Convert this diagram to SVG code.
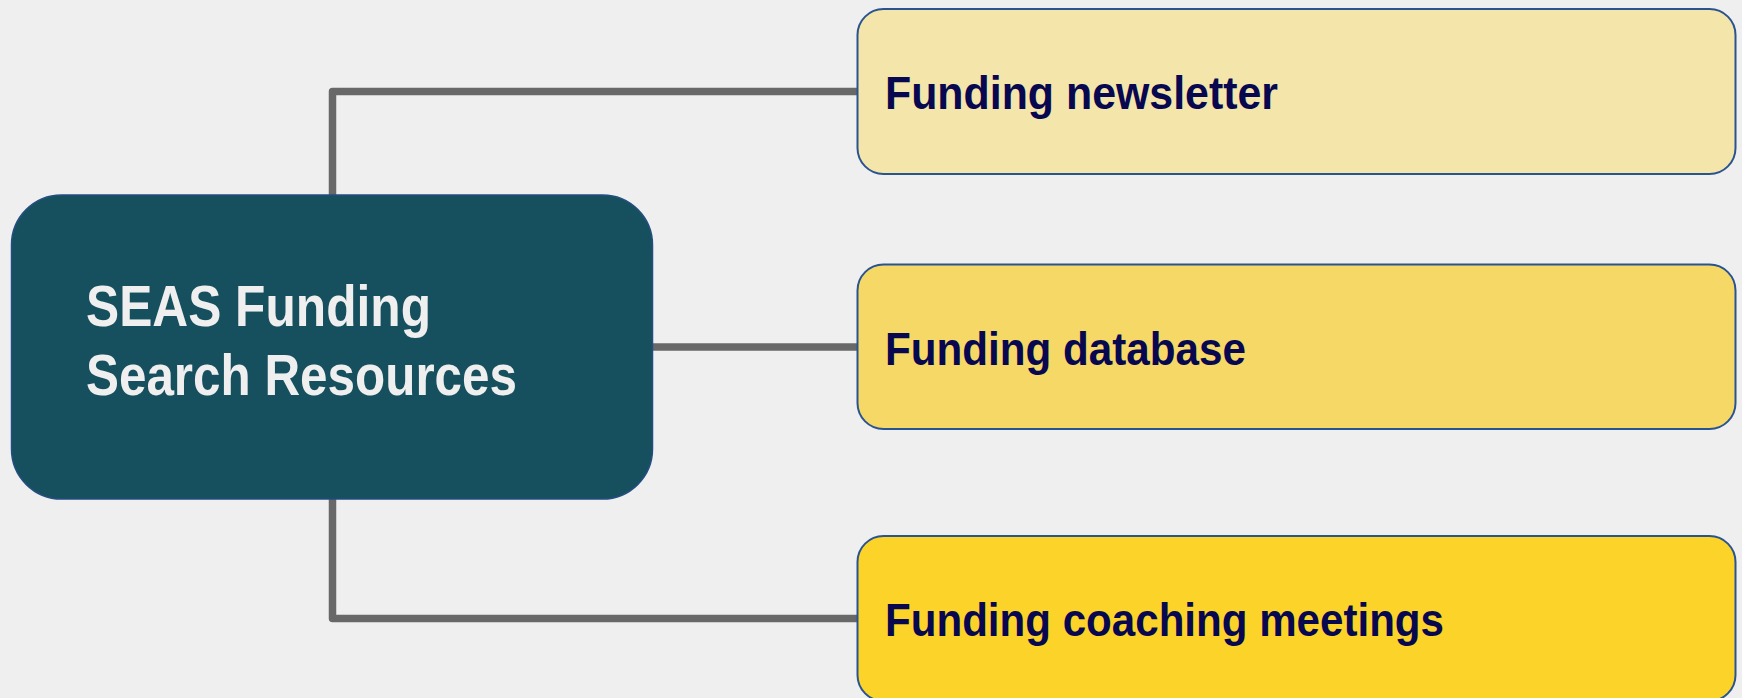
<svg xmlns="http://www.w3.org/2000/svg" width="1742" height="698" viewBox="0 0 1742 698">
  <style>
    .conn { fill: none; stroke: #686868; stroke-width: 7.5; stroke-linejoin: round; }
    .child rect { stroke: #2A5490; stroke-width: 2; }
    .child text { font-family: "Liberation Sans", Arial, sans-serif; font-weight: bold; font-size: 46px; fill: #07084F; }
    .main text { font-family: "Liberation Sans", Arial, sans-serif; font-weight: bold; font-size: 58px; fill: #EFEFEF; }
  </style>
  <rect x="0" y="0" width="1742" height="698" fill="#EFEFEF"/>
  <g id="connectors">
    <path class="conn" d="M332.5,195 V91.5 H858"/>
    <path class="conn" d="M652,347 H858"/>
    <path class="conn" d="M332.5,498 V618.5 H858"/>
  </g>
  <g id="main" class="main">
    <rect x="11.5" y="195" width="641" height="304" rx="50" ry="50" fill="#164F5E" stroke="#234E80" stroke-width="1.5"/>
    <text x="86" y="325.5" textLength="345" lengthAdjust="spacingAndGlyphs">SEAS Funding</text>
    <text x="86" y="395" textLength="431" lengthAdjust="spacingAndGlyphs">Search Resources</text>
  </g>
  <g id="node-newsletter" class="child">
    <rect x="857.5" y="9" width="878" height="165" rx="26" ry="26" fill="#F4E5AB"/>
    <text x="885" y="109" textLength="393" lengthAdjust="spacingAndGlyphs">Funding newsletter</text>
  </g>
  <g id="node-database" class="child">
    <rect x="857.5" y="264.5" width="878" height="164.5" rx="26" ry="26" fill="#F5D866"/>
    <text x="885" y="364.5" textLength="361" lengthAdjust="spacingAndGlyphs">Funding database</text>
  </g>
  <g id="node-coaching" class="child">
    <rect x="857.5" y="536" width="878" height="165" rx="26" ry="26" fill="#FCD329"/>
    <text x="885" y="636" textLength="559" lengthAdjust="spacingAndGlyphs">Funding coaching meetings</text>
  </g>
</svg>
